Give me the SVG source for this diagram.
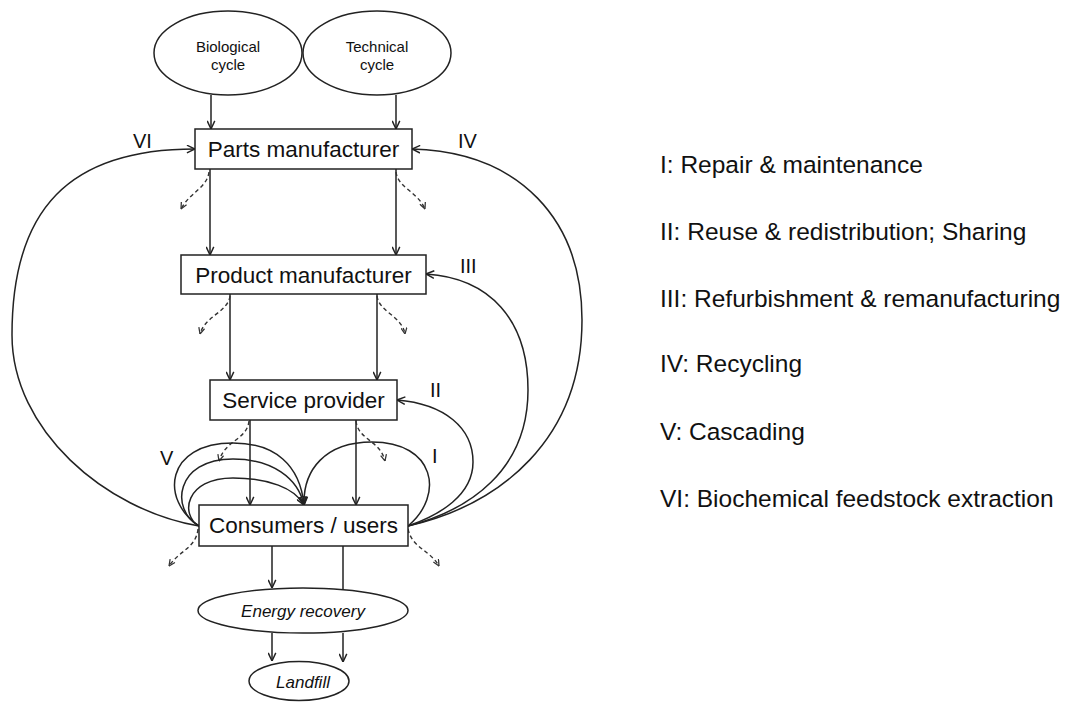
<svg xmlns="http://www.w3.org/2000/svg" width="1078" height="702" viewBox="0 0 1078 702">
<style>
  .box{fill:#fff;stroke:#222;stroke-width:1.5}
  .ell{fill:#fff;stroke:#222;stroke-width:1.5}
  .t{font-family:"Liberation Sans",Arial,sans-serif;fill:#111}
  .bt{font-size:22.5px;text-anchor:middle}
  .et{font-size:15px;text-anchor:middle}
  .it{font-size:17px;font-style:italic;text-anchor:middle}
  .lab{font-size:20px}
  .leg{font-size:24.5px}
  .c{fill:none;stroke:#222;stroke-width:1.5;marker-end:url(#ah)}
  .cn{fill:none;stroke:#222;stroke-width:1.5}
  .d{fill:none;stroke:#333;stroke-width:1.4;stroke-dasharray:4 3;marker-end:url(#ahd)}
</style>
<defs>
  <marker id="ah" viewBox="0 0 10 10" refX="9.5" refY="5" markerWidth="9" markerHeight="9" markerUnits="userSpaceOnUse" orient="auto">
    <path d="M0.5,0.8 L9.5,5 L0.5,9.2" fill="none" stroke="#222" stroke-width="1.6"/>
  </marker>
  <marker id="ahd" viewBox="0 0 10 10" refX="9.5" refY="5" markerWidth="7" markerHeight="7" markerUnits="userSpaceOnUse" orient="auto">
    <path d="M0.5,0.8 L9.5,5 L0.5,9.2" fill="none" stroke="#333" stroke-width="1.8"/>
  </marker>
</defs>
<rect width="1078" height="702" fill="#fff"/>

<g id="connectors">
  <path class="c" d="M211,95 L211,129"/>
  <path class="c" d="M396,95 L396,129"/>
  <path class="c" d="M210,169 L210,255"/>
  <path class="c" d="M396,169 L396,255"/>
  <path class="c" d="M230,294 L230,380"/>
  <path class="c" d="M377,294 L377,380"/>
  <path class="c" d="M250,420 L250,505"/>
  <path class="c" d="M356,420 L356,505"/>
  <path class="c" d="M272,546 L272,588"/>
  <path class="cn" d="M343,546 L343,589"/>
  <path class="c" d="M272,633 L272,661"/>
  <path class="c" d="M343,633 L343,662"/>
  <!-- dashed outflows -->
  <path class="d" d="M209,172 C207,188 190,192 181,209"/>
  <path class="d" d="M396,172 C398,188 418,192 425,209"/>
  <path class="d" d="M230,296 C228,312 205,316 200,334"/>
  <path class="d" d="M377,296 C379,312 402,316 405,334"/>
  <path class="d" d="M249,421 C247,440 225,440 219,461"/>
  <path class="d" d="M356,421 C358,440 380,440 385,461"/>
  <path class="d" d="M198,529 C196,548 180,550 169,566"/>
  <path class="d" d="M408,529 C412,548 430,550 439,566"/>
  <!-- loops -->
  <path class="c" d="M199,526 C105,510 12,430 12,335 C12,209 69,149 195,149"/>
  <path class="c" d="M408,526 C500,505 582,440 582,320 C582,220 520,152 412,149"/>
  <path class="c" d="M408,526 C470,510 528,470 528,390 C528,320 490,278 426,274"/>
  <path class="c" d="M408,526 C440,515 473,495 473,462 C473,428 445,404 397,400"/>
  <path class="c" d="M408,526 C445,495 435,442 372,442 C325,442 303,470 304,505"/>
  <path class="c" d="M199,526 C160,500 165,443 233,443 C275,443 300,465 304,505"/>
  <path class="c" d="M199,526 C170,510 175,459 233,459 C272,459 298,478 304,505"/>
  <path class="c" d="M199,526 C180,515 185,478 233,478 C268,478 295,488 304,505"/>
</g>

<g id="biological-cycle">
  <ellipse class="ell" cx="228" cy="53" rx="74" ry="42"/>
  <text class="t et" x="228" y="52">Biological</text>
  <text class="t et" x="228" y="70">cycle</text>
</g>
<g id="technical-cycle">
  <ellipse class="ell" cx="377" cy="53" rx="74" ry="42"/>
  <text class="t et" x="377" y="52">Technical</text>
  <text class="t et" x="377" y="70">cycle</text>
</g>
<g id="parts-manufacturer">
  <rect class="box" x="195" y="129" width="217" height="40"/>
  <text class="t bt" x="303.5" y="157">Parts manufacturer</text>
</g>
<g id="product-manufacturer">
  <rect class="box" x="181" y="255" width="245" height="39"/>
  <text class="t bt" x="303.5" y="283">Product manufacturer</text>
</g>
<g id="service-provider">
  <rect class="box" x="210" y="380" width="187" height="40"/>
  <text class="t bt" x="303.5" y="408">Service provider</text>
</g>
<g id="consumers-users">
  <rect class="box" x="199" y="505" width="209" height="41"/>
  <text class="t bt" x="303.5" y="533">Consumers / users</text>
</g>
<g id="energy-recovery">
  <ellipse class="ell" cx="303" cy="610.5" rx="105" ry="22.5"/>
  <text class="t it" x="303" y="617">Energy recovery</text>
</g>
<g id="landfill">
  <ellipse class="ell" cx="299" cy="681" rx="50" ry="19.5"/>
  <text class="t it" x="303" y="688">Landfill</text>
</g>

<g id="loop-labels">
  <text class="t lab" x="133" y="148">VI</text>
  <text class="t lab" x="458" y="148">IV</text>
  <text class="t lab" x="460" y="273">III</text>
  <text class="t lab" x="430" y="397">II</text>
  <text class="t lab" x="432" y="463">I</text>
  <text class="t lab" x="160" y="465">V</text>
</g>

<g id="legend">
  <text class="t leg" x="660" y="173">I: Repair &amp; maintenance</text>
  <text class="t leg" x="660" y="240">II: Reuse &amp; redistribution; Sharing</text>
  <text class="t leg" x="660" y="307">III: Refurbishment &amp; remanufacturing</text>
  <text class="t leg" x="660" y="372">IV: Recycling</text>
  <text class="t leg" x="660" y="440">V: Cascading</text>
  <text class="t leg" x="660" y="507">VI: Biochemical feedstock extraction</text>
</g>
</svg>
